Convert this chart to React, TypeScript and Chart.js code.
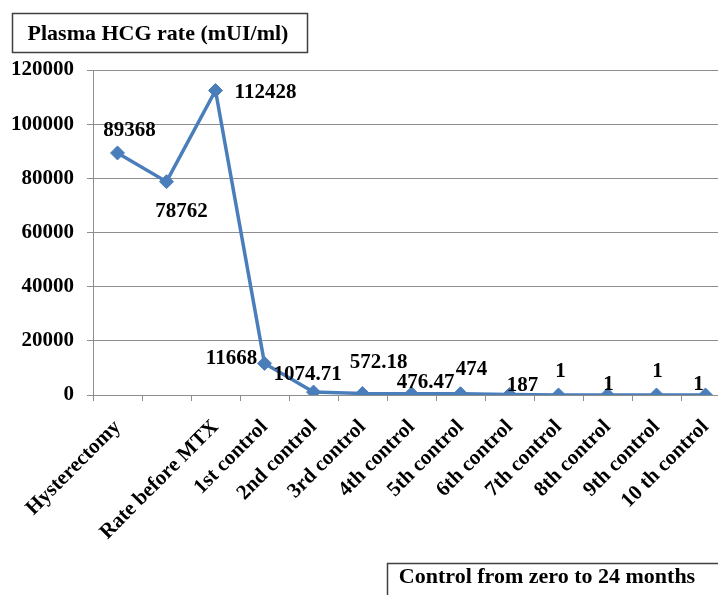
import React, { useEffect, useRef } from "react";
import { Chart, registerables } from "chart.js";

Chart.register(...registerables);

// ---- data ----
const categories = [
  "Hysterectomy",
  "",
  "Rate before MTX",
  "1st control",
  "2nd control",
  "3rd control",
  "4th control",
  "5th control",
  "6th control",
  "7th control",
  "8th control",
  "9th control",
  "10 th control",
];
const hcgValues = [89368, 78762, 112428, 11668, 1074.71, 572.18, 476.47, 474, 187, 1, 1, 1, 1];
const valueLabels = ["89368", "78762", "112428", "11668", "1074.71", "572.18", "476.47", "474", "187", "1", "1", "1", "1"];
const yMin = 0;
const yMax = 120000;
const yStep = 20000;
const chartTitle = "Plasma HCG rate (mUI/ml)";
const xAxisCaption = "Control from zero to 24 months";

// ---- layout / style (not data) ----
const labelOffsets: [number, number][] = [
  [12, -22], [15, 30], [50, 2], [-33, -5], [-6, -18], [16, -31], [14, -11],
  [11, -24], [13, -9], [2, -23], [1, -10], [1, -23], [-7, -10],
];
const FONT = "'Liberation Serif', 'Times New Roman', serif";
const LINE_COLOR = "#4A7EBB";
const GRID_COLOR = "#8E8E8E";

const boxesAndLabels = {
  id: "boxesAndLabels",
  afterDatasetsDraw(chart: any) {
    const ctx = chart.ctx;
    const meta = chart.getDatasetMeta(0);
    ctx.save();
    ctx.fillStyle = "#000";
    ctx.font = `bold 21px ${FONT}`;
    ctx.textAlign = "center";
    ctx.textBaseline = "middle";
    meta.data.forEach((pt: any, i: number) => {
      const [dx, dy] = labelOffsets[i] || [0, -15];
      ctx.fillText(valueLabels[i], pt.x + dx, pt.y + dy);
    });
    ctx.restore();
  },
  afterDraw(chart: any) {
    const ctx = chart.ctx;
    ctx.save();
    ctx.strokeStyle = "#404040";
    ctx.lineWidth = 1.5;
    ctx.fillStyle = "#000";
    ctx.font = `bold 22px ${FONT}`;
    ctx.textAlign = "center";
    ctx.textBaseline = "middle";
    // title box
    ctx.strokeRect(12.5, 13.5, 295, 39);
    ctx.fillText(chartTitle, 158, 34);
    // bottom caption box
    ctx.strokeRect(387.5, 563.5, 400, 100);
    ctx.fillText(xAxisCaption, 547, 577);
    ctx.restore();
  },
};

export default function App() {
  const canvasRef = useRef<HTMLCanvasElement | null>(null);

  useEffect(() => {
    document.body.style.margin = "0";
    const canvas = canvasRef.current;
    if (!canvas) return;
    const chart = new Chart(canvas, {
      type: "line",
      data: {
        labels: categories,
        datasets: [
          {
            data: hcgValues,
            borderColor: LINE_COLOR,
            backgroundColor: LINE_COLOR,
            borderWidth: 3.5,
            tension: 0,
            pointStyle: "rectRot",
            pointRadius: 7,
            pointHoverRadius: 7,
            pointBackgroundColor: LINE_COLOR,
            pointBorderColor: LINE_COLOR,
            pointBorderWidth: 1,
          },
        ],
      },
      options: {
        animation: false,
        responsive: false,
        maintainAspectRatio: false,
        events: [],
        layout: { padding: { top: 70, left: 0, right: 0, bottom: 0 } },
        plugins: {
          legend: { display: false },
          title: { display: false },
          tooltip: { enabled: false },
        },
        scales: {
          x: {
            type: "category",
            offset: true,
            grid: {
              offset: true,
              drawOnChartArea: false,
              drawTicks: true,
              tickLength: 6,
              color: GRID_COLOR,
            },
            border: { display: true, color: GRID_COLOR, width: 1 },
            ticks: {
              autoSkip: false,
              maxRotation: 45,
              minRotation: 45,
              padding: 14,
              color: "#000",
              font: { family: FONT, size: 21, weight: "bold" },
            },
            afterFit(scale: any) {
              scale.height = 200;
            },
          },
          y: {
            min: yMin,
            max: yMax,
            ticks: {
              stepSize: yStep,
              padding: 13,
              color: "#000",
              font: { family: FONT, size: 21, weight: "bold" },
              callback: (v: any) => String(v),
            },
            grid: {
              color: GRID_COLOR,
              tickLength: 6,
              drawTicks: true,
            },
            border: { display: true, color: GRID_COLOR, width: 1 },
            afterFit(scale: any) {
              scale.width = 93;
            },
          },
        },
      },
      plugins: [boxesAndLabels],
    });
    return () => chart.destroy();
  }, []);

  return (
    <div style={{ position: "relative", width: 718, height: 595, overflow: "hidden", background: "#fff" }}>
      <canvas ref={canvasRef} width={738} height={595} style={{ display: "block", width: 738, height: 595 }} />
    </div>
  );
}
